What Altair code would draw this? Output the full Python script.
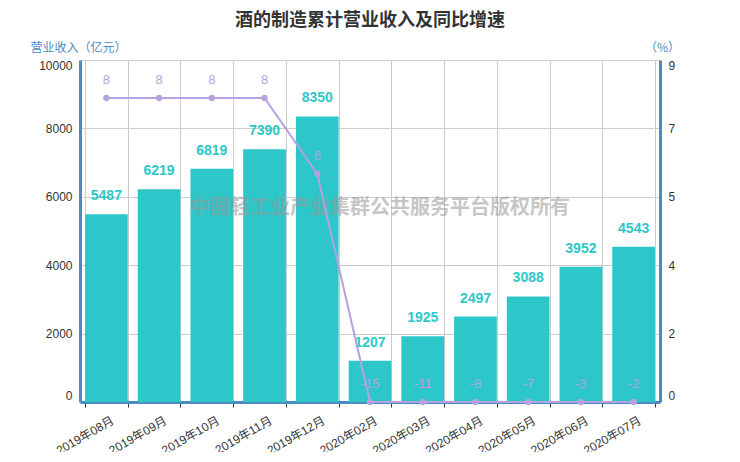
import altair as alt
import pandas as pd

months = ["2019年08月", "2019年09月", "2019年10月", "2019年11月", "2019年12月",
          "2020年02月", "2020年03月", "2020年04月", "2020年05月", "2020年06月", "2020年07月"]
revenue = [5487, 6219, 6819, 7390, 8350, 1207, 1925, 2497, 3088, 3952, 4543]
growth = [8, 8, 8, 8, 6, -15, -11, -8, -7, -3, -2]
left_ticks = [0, 2000, 4000, 6000, 8000, 10000]
right_ticks = [0, 1.8, 3.6, 5.4, 7.2, 9]
watermark = ["中国轻工业产业集群公共服务平台版权所有"]

df = pd.DataFrame({
    "month": months,
    "revenue": revenue,
    "growth": growth,
    "growth_label": [str(v) for v in growth],
})

FONT = "Liberation Sans, Noto Sans CJK SC"
CJK = "Noto Sans CJK SC"
AXIS_BLUE = "#4A8BC2"
TEAL = "#2EC7C9"
PURPLE = "#B6A2DE"

x_enc = alt.X(
    "month:N", sort=months,
    scale=alt.Scale(paddingInner=0.19, paddingOuter=0.095),
    axis=alt.Axis(
        title=None, labelAngle=-30, labelAlign="right", labelBaseline="middle",
        labelPadding=12, labelOffset=6, labelFontSize=12, labelColor="#333", labelFont=FONT,
        labelOverlap=False,
        tickBand="extent", grid=True, gridColor="#cccccc", gridWidth=1,
        domainColor=AXIS_BLUE, domainWidth=3, tickColor="#333", tickSize=5,
    ),
)

y_left = alt.Y(
    "revenue:Q",
    scale=alt.Scale(domain=[0, 10000], nice=False),
    axis=alt.Axis(
        values=left_ticks, format="d", title="营业收入（亿元）", titleAngle=0, titleX=-2, titleY=-13,
        titleAlign="center", titleBaseline="middle", titleColor=AXIS_BLUE,
        titleFontSize=12, titleFontWeight="normal", titleFont=CJK,
        labelFontSize=12, labelColor="#333", labelFont=FONT, labelPadding=8,
        labelFlush=True, ticks=False, grid=True, gridColor="#cccccc",
        domainColor=AXIS_BLUE, domainWidth=3,
    ),
)

bars = alt.Chart(df).mark_bar(color=TEAL).encode(x=x_enc, y=y_left)
bar_text = alt.Chart(df).mark_text(
    dy=-18, fontSize=14, fontWeight="bold", color=TEAL, font=FONT, baseline="middle"
).encode(x=alt.X("month:N", sort=months), y="revenue:Q", text="revenue:Q")

wm = alt.Chart(pd.DataFrame({"t": watermark})).mark_text(
    fontSize=20, fontWeight="bold", color="#999999", opacity=0.55,
    font=CJK, align="center", baseline="middle",
).encode(x=alt.value(300), y=alt.value(148), text="t:N")

left_layer = alt.layer(bars, bar_text, wm)

y_right = alt.Y(
    "growth:Q",
    scale=alt.Scale(domain=[0, 9], nice=False, clamp=True),
    axis=alt.Axis(
        orient="right", values=right_ticks, format=".0f", title="（%）",
        titleAngle=0, titleX=2, titleY=-13, titleAlign="center",
        titleBaseline="middle", titleColor=AXIS_BLUE, titleFontSize=12,
        titleFontWeight="normal", titleFont=CJK,
        labelFontSize=12, labelColor="#333", labelFont=FONT, labelPadding=8,
        labelFlush=True, ticks=False, grid=False,
        domainColor=AXIS_BLUE, domainWidth=3,
    ),
)

line = alt.Chart(df).mark_line(color=PURPLE, strokeWidth=2).encode(
    x=alt.X("month:N", sort=months), y=y_right
)
pts = alt.Chart(df).mark_point(filled=True, color=PURPLE, size=40, opacity=1).encode(
    x=alt.X("month:N", sort=months), y="growth:Q"
)
line_text = alt.Chart(df).mark_text(
    dy=-18, fontSize=13, color=PURPLE, font=FONT, baseline="middle"
).encode(x=alt.X("month:N", sort=months), y="growth:Q", text="growth_label:N")

right_layer = alt.layer(line, pts, line_text)

chart = alt.layer(left_layer, right_layer).resolve_scale(y="independent").properties(
    width=580, height=342,
    autosize=alt.AutoSizeParams(type="none"),
    padding={"left": 72, "top": 52, "right": 70, "bottom": 50},
    title=alt.TitleParams(
        "酒的制造累计营业收入及同比增速", anchor="middle", frame="group",
        fontSize=18, fontWeight="bold", color="#333", font=CJK, offset=11,
    ),
).configure_view(stroke=None)

chart.save("out.html", embed_options={"renderer": "svg", "actions": False})
